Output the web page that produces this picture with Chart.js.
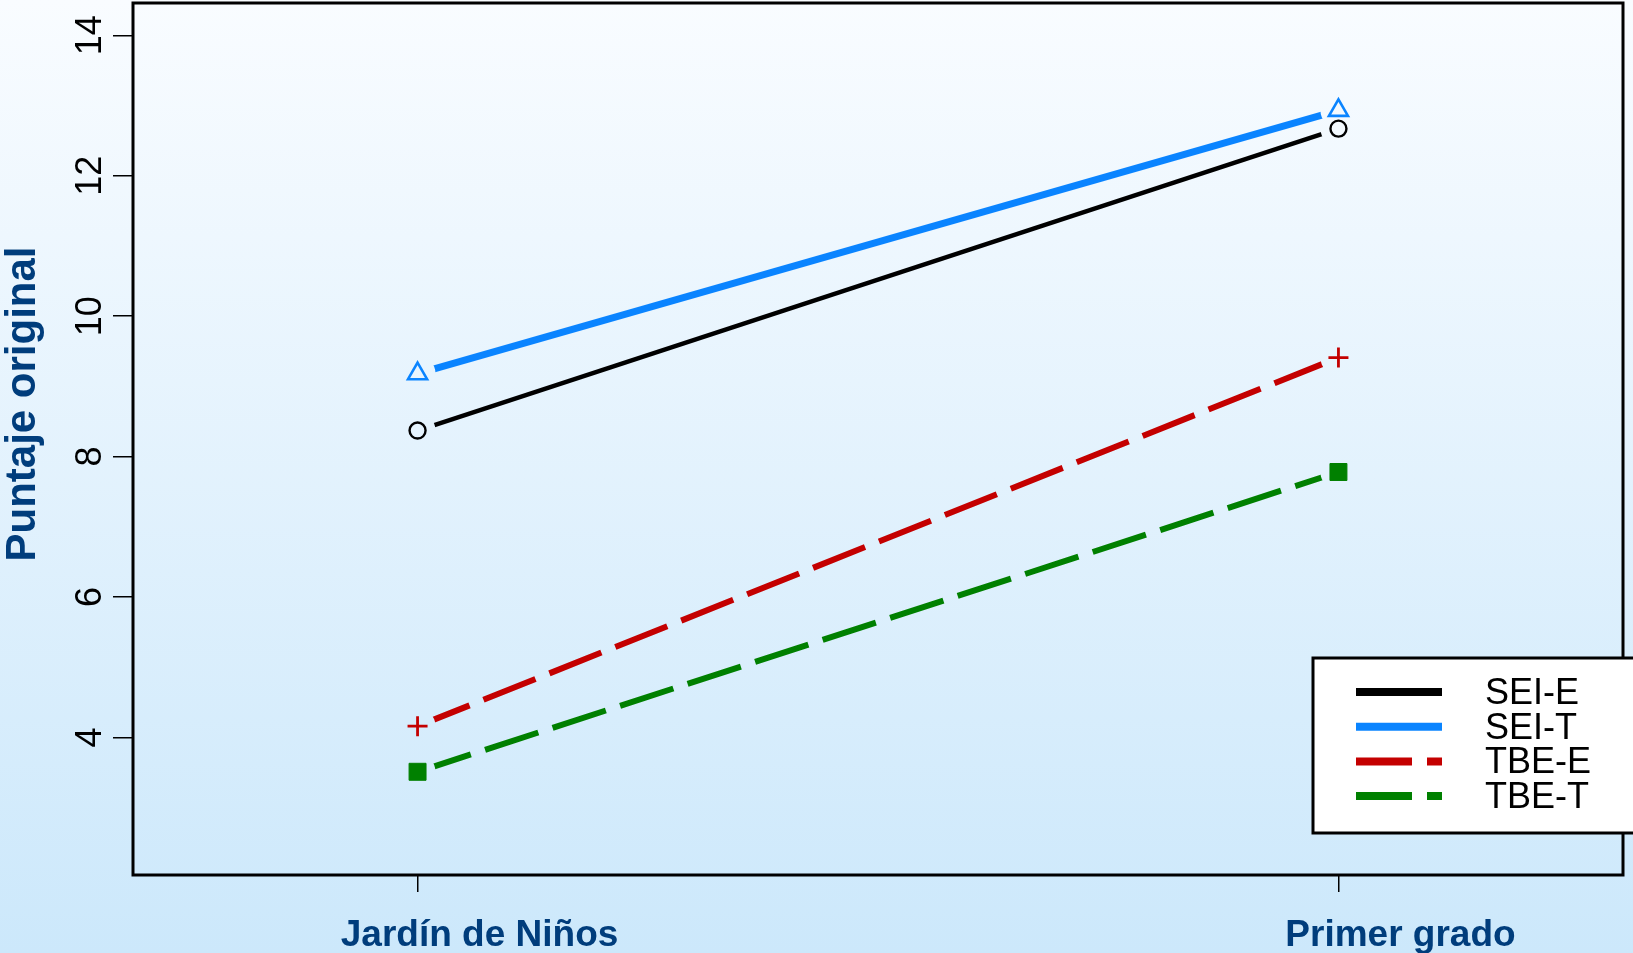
<!DOCTYPE html>
<html>
<head>
<meta charset="utf-8">
<script src="https://cdn.jsdelivr.net/npm/chart.js@4/dist/chart.umd.min.js"></script>
<style>
  html, body { margin: 0; padding: 0; }
  body { width: 1633px; height: 953px; background: linear-gradient(to bottom, #f9fcff 0%, #cce8fb 100%); }
  canvas { display: block; }
</style>
</head>
<body>
<canvas id="chart" width="1633" height="953"></canvas>
<script>
const categories = ['Jardín de Niños', 'Primer grado'];
const seriesNames = ['SEI-E', 'SEI-T', 'TBE-E', 'TBE-T'];
const seiE = [8.37, 12.67];
const seiT = [9.18, 12.93];
const tbeE = [4.16, 9.41];
const tbeT = [3.51, 7.78];
const yTitle = 'Puntaje original';

const navy = '#003d7c';
const font = '"Liberation Sans", Arial, sans-serif';

const toPoints = vals => vals.map((v, i) => ({ x: i + 1, y: v }));

// line part of each series, with a gap around the markers
function lineSet(label, vals, color, width, dash) {
  return {
    label: label,
    data: toPoints(vals),
    borderColor: color,
    borderWidth: width,
    borderDash: dash,
    pointRadius: 0,
    fill: false,
    tension: 0,
    gap: 18,
    legendWidth: 8
  };
}

function markerSet(vals, color, style, radius, fillColor, bw) {
  return {
    label: '',
    data: toPoints(vals),
    type: 'scatter',
    showLine: false,
    pointStyle: style,
    pointRadius: radius,
    pointHoverRadius: radius,
    borderColor: color,
    backgroundColor: fillColor,
    pointBorderWidth: bw,
    marker: true
  };
}

const gapClip = {
  id: 'gapClip',
  beforeDatasetDraw(chart, args) {
    const ds = chart.data.datasets[args.index];
    if (!ds.gap) return;
    const ctx = chart.ctx;
    ctx.save();
    ctx.beginPath();
    ctx.rect(0, 0, chart.width, chart.height);
    args.meta.data.forEach(p => {
      ctx.moveTo(p.x + ds.gap, p.y);
      ctx.arc(p.x, p.y, ds.gap, 0, Math.PI * 2, true);
    });
    ctx.clip('evenodd');
  },
  afterDatasetDraw(chart, args) {
    const ds = chart.data.datasets[args.index];
    if (!ds.gap) return;
    chart.ctx.restore();
  }
};

const frame = {
  id: 'frame',
  afterDraw(chart) {
    const ctx = chart.ctx;
    const a = chart.chartArea;
    ctx.save();
    ctx.strokeStyle = '#000';
    ctx.lineWidth = 3;
    ctx.strokeRect(a.left, a.top, a.right - a.left, a.bottom - a.top);

    // y axis title
    ctx.fillStyle = navy;
    ctx.font = 'bold 42px ' + font;
    ctx.textAlign = 'center';
    ctx.textBaseline = 'middle';
    ctx.translate(23, 404);
    ctx.rotate(-Math.PI / 2);
    ctx.fillText(yTitle, 0, 0);
    ctx.restore();

    // legend box
    ctx.save();
    ctx.fillStyle = '#fff';
    ctx.strokeStyle = '#000';
    ctx.lineWidth = 3;
    ctx.fillRect(1313, 658, 340, 175);
    ctx.strokeRect(1313, 658, 340, 175);
    const lines = chart.data.datasets.filter(d => !d.marker);
    ctx.font = '36px ' + font;
    ctx.textAlign = 'left';
    ctx.textBaseline = 'middle';
    lines.forEach((d, i) => {
      const y = 692 + i * 34.7;
      ctx.beginPath();
      ctx.strokeStyle = d.borderColor;
      ctx.lineWidth = d.legendWidth;
      ctx.setLineDash(d.borderDash || []);
      ctx.moveTo(1356, y);
      ctx.lineTo(1442, y);
      ctx.stroke();
      ctx.setLineDash([]);
      ctx.fillStyle = '#000';
      ctx.fillText(d.label, 1485, y + 2);
    });
    ctx.restore();
  }
};

new Chart(document.getElementById('chart'), {
  type: 'line',
  data: {
    datasets: [
      lineSet(seriesNames[0], seiE, '#000000', 4.5, []),
      lineSet(seriesNames[1], seiT, '#0a84ff', 7, []),
      lineSet(seriesNames[2], tbeE, '#c40000', 6, [56, 15]),
      lineSet(seriesNames[3], tbeT, '#008000', 6, [56, 15]),
      markerSet(seiE, '#000000', 'circle', 8, 'rgba(0,0,0,0)', 2.4),
      markerSet(seiT, '#0a84ff', 'triangle', 11, 'rgba(0,0,0,0)', 2.6),
      markerSet(tbeE, '#c40000', 'cross', 10, '#c40000', 2.8),
      markerSet(tbeT, '#008000', 'rect', 12, '#008000', 1)
    ]
  },
  options: {
    responsive: false,
    animation: false,
    layout: { autoPadding: false, padding: { top: 3, right: 10, left: 0, bottom: 0 } },
    plugins: {
      legend: { display: false },
      tooltip: { enabled: false }
    },
    scales: {
      x: {
        type: 'linear',
        min: 0.691,
        max: 2.309,
        afterFit: s => { s.height = 78; s.paddingLeft = 0; s.paddingRight = 0; },
        border: { display: false },
        grid: {
          drawOnChartArea: false,
          tickLength: 17,
          color: '#000',
          lineWidth: 1.5
        },
        ticks: {
          stepSize: 1,
          includeBounds: false,
          autoSkip: false,
          maxRotation: 0,
          padding: 22,
          labelOffset: 62,
          color: navy,
          font: { family: font, size: 37, weight: 'bold' },
          callback: v => categories[v - 1] || ''
        }
      },
      y: {
        type: 'linear',
        min: 2.04,
        max: 14.46,
        afterFit: s => { s.width = 133; s.paddingTop = 0; s.paddingBottom = 0; },
        border: { display: false },
        grid: {
          drawOnChartArea: false,
          tickLength: 20,
          color: '#000',
          lineWidth: 1.5
        },
        ticks: {
          stepSize: 2,
          includeBounds: false,
          autoSkip: false,
          minRotation: 90,
          maxRotation: 90,
          crossAlign: 'center',
          padding: 2,
          color: '#000',
          font: { family: font, size: 36 }
        }
      }
    }
  },
  plugins: [gapClip, frame]
});
</script>
</body>
</html>
